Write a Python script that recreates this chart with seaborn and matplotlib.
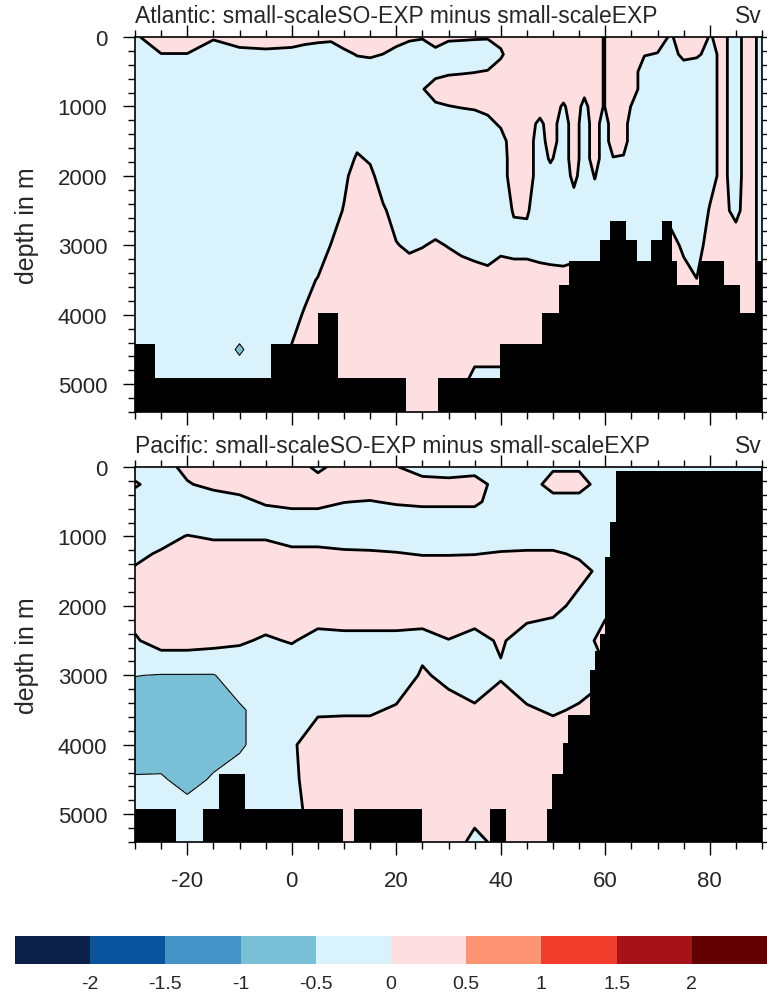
import numpy as np
import matplotlib
matplotlib.use("Agg")
import matplotlib.pyplot as plt
from matplotlib.colors import BoundaryNorm, ListedColormap
from matplotlib.cm import ScalarMappable
from matplotlib.ticker import MultipleLocator
import seaborn as sns

# ---------------------------------------------------------------------------
# Shading levels (Sv) and colours
# ---------------------------------------------------------------------------
level_bounds = [-2.5, -2.0, -1.5, -1.0, -0.5, 0.0, 0.5, 1.0, 1.5, 2.0, 2.5]
bar_ticks = [-2, -1.5, -1, -0.5, 0, 0.5, 1, 1.5, 2]
shade_hex = ["#0b2049", "#0a539d", "#4393c7", "#79bfd6", "#d9f2fc",
             "#fddfe1", "#fc9373", "#f03d2c", "#a61218", "#620001"]

max_depth = 5400

# ---------------------------------------------------------------------------
# Atlantic: streamfunction difference, one vertical profile per latitude
# ---------------------------------------------------------------------------
atl_lat = [-30, -25, -20, -15, -10, -5, 0, 2.5, 5, 7.5, 10, 12.5, 15, 17.5,
           20, 22.5, 25, 27.5, 30, 32.5, 35, 37.5, 40, 42.5, 45, 47.5, 49.5,
           52, 54, 56, 58, 59.75, 61.5, 63.5, 65, 67.5, 70, 72.5, 75, 77.5,
           80, 82.5, 85, 87.5, 90]
atl_depth = [0, 250, 500, 750, 1000, 1250, 1500, 1750, 2000, 2500, 3000,
             3500, 4000, 4500, 5000, 5400]
atl_profiles = [
    [-0.05, -0.2, -0.2, -0.2, -0.2, -0.2, -0.2, -0.2, -0.2, -0.2, -0.2, -0.2, -0.2, -0.2, -0.2, -0.2],
    [0.2, -0.01, -0.2, -0.2, -0.2, -0.2, -0.2, -0.2, -0.2, -0.2, -0.2, -0.2, -0.2, -0.2, -0.2, -0.2],
    [0.2, -0.01, -0.2, -0.2, -0.2, -0.2, -0.2, -0.2, -0.2, -0.2, -0.2, -0.2, -0.2, -0.2, -0.2, -0.2],
    [0.04, -0.2, -0.2, -0.2, -0.2, -0.2, -0.2, -0.2, -0.2, -0.2, -0.2, -0.2, -0.2, -0.2, -0.2, -0.2],
    [0.15, -0.1, -0.2, -0.2, -0.2, -0.2, -0.2, -0.2, -0.2, -0.2, -0.2, -0.2, -0.2, -0.56, -0.2, -0.2],
    [0.2, -0.09, -0.2, -0.2, -0.2, -0.2, -0.2, -0.2, -0.2, -0.2, -0.2, -0.2, -0.2, -0.2, -0.2, -0.2],
    [0.15, -0.1, -0.2, -0.2, -0.2, -0.2, -0.2, -0.2, -0.2, -0.2, -0.2, -0.2, -0.1, 0.02, 0.2, 0.2],
    [0.1, -0.13, -0.2, -0.2, -0.2, -0.2, -0.2, -0.2, -0.2, -0.2, -0.2, -0.1, 0.03, 0.2, 0.2, 0.2],
    [0.1, -0.2, -0.2, -0.2, -0.2, -0.2, -0.2, -0.2, -0.2, -0.2, -0.2, 0.02, 0.2, 0.2, 0.2, 0.2],
    [0.08, -0.22, -0.2, -0.2, -0.2, -0.2, -0.2, -0.2, -0.2, -0.2, 0.01, 0.2, 0.2, 0.2, 0.2, 0.2],
    [0.2, -0.09, -0.2, -0.2, -0.2, -0.2, -0.2, -0.2, -0.1, 0.03, 0.2, 0.2, 0.2, 0.2, 0.2, 0.2],
    [0.2, 0.02, -0.2, -0.2, -0.2, -0.2, -0.1, 0.05, 0.2, 0.2, 0.2, 0.2, 0.2, 0.2, 0.2, 0.2],
    [0.2, 0.05, -0.2, -0.2, -0.2, -0.2, -0.2, -0.05, 0.1, 0.2, 0.2, 0.2, 0.2, 0.2, 0.2, 0.2],
    [0.2, -0.005, -0.2, -0.2, -0.2, -0.2, -0.2, -0.2, -0.2, 0.05, 0.2, 0.2, 0.2, 0.2, 0.2, 0.2],
    [0.15, -0.12, -0.2, -0.2, -0.2, -0.2, -0.2, -0.2, -0.2, -0.15, 0.02, 0.2, 0.2, 0.2, 0.2, 0.2],
    [0.06, -0.19, -0.2, -0.2, -0.2, -0.2, -0.2, -0.2, -0.2, -0.2, -0.06, 0.2, 0.2, 0.2, 0.2, 0.2],
    [0.03, -0.22, -0.2, -0.02, -0.2, -0.2, -0.2, -0.2, -0.2, -0.2, -0.015, 0.2, 0.2, 0.2, 0.2, 0.2],
    [0.15, -0.1, -0.1, 0.15, -0.05, -0.2, -0.2, -0.2, -0.2, -0.2, 0.04, 0.2, 0.2, 0.2, 0.2, 0.2],
    [0.06, -0.19, -0.05, 0.2, -0.01, -0.2, -0.2, -0.2, -0.2, -0.2, -0.015, 0.2, 0.2, 0.2, 0.2, 0.2],
    [0.05, -0.2, -0.03, 0.2, 0.02, -0.2, -0.2, -0.2, -0.2, -0.2, -0.09, 0.2, 0.2, 0.2, 0.1, 0.1],
    [0.035, -0.2, -0.01, 0.2, 0.05, -0.2, -0.2, -0.2, -0.2, -0.2, -0.17, 0.2, 0.2, 0.2, -0.2, -0.2],
    [0.03, -0.22, 0.02, 0.2, 0.1, -0.1, -0.2, -0.2, -0.2, -0.2, -0.28, 0.2, 0.2, 0.2, -0.2, -0.2],
    [0.1, -0.05, 0.15, 0.2, 0.2, 0.05, -0.15, -0.2, -0.2, -0.2, -0.09, 0.2, 0.2, 0.2, -0.2, -0.2],
    [0.2, 0.2, 0.2, 0.2, 0.2, 0.2, 0.2, 0.2, 0.2, 0.03, -0.13, 0.2, 0.2, 0.2, 0.2, 0.2],
    [0.2, 0.2, 0.2, 0.2, 0.2, 0.2, 0.2, 0.2, 0.2, 0.04, -0.13, 0.2, 0.2, 0.2, 0.2, 0.2],
    [0.2, 0.2, 0.2, 0.2, 0.2, -0.1, -0.2, -0.2, -0.2, -0.2, -0.15, 0.15, 0.2, 0.2, 0.2, 0.2],
    [0.2, 0.2, 0.2, 0.2, 0.2, 0.2, 0.2, 0.05, -0.15, -0.2, -0.25, 0.2, 0.2, 0.2, 0.2, 0.2],
    [0.2, 0.2, 0.2, 0.2, -0.05, -0.2, -0.2, -0.2, -0.2, -0.2, -0.15, 0.1, 0.2, 0.2, 0.2, 0.2],
    [0.2, 0.2, 0.2, 0.2, 0.2, 0.2, 0.2, 0.2, 0.1, -0.2, -0.2, 0.2, 0.2, 0.2, 0.2, 0.2],
    [0.2, 0.2, 0.2, 0.1, -0.1, -0.2, -0.2, -0.2, -0.2, -0.2, -0.2, 0.2, 0.2, 0.2, 0.2, 0.2],
    [0.2, 0.2, 0.2, 0.2, 0.2, 0.2, 0.2, 0.2, 0.02, -0.2, -0.2, 0.2, 0.2, 0.2, 0.2, 0.2],
    [-0.02, -0.02, -0.02, -0.02, -0.02, -0.2, -0.2, -0.2, -0.2, -0.2, -0.2, -0.2, -0.2, -0.2, -0.2, -0.2],
    [0.2, 0.2, 0.2, 0.2, 0.2, 0.2, 0.2, -0.02, -0.2, -0.2, -0.2, -0.2, -0.2, -0.2, -0.2, -0.2],
    [0.2, 0.2, 0.2, 0.2, 0.2, 0.2, 0.2, -0.05, -0.2, -0.2, -0.2, -0.2, -0.2, -0.2, -0.2, -0.2],
    [0.2, 0.2, 0.2, 0.2, -0.02, -0.2, -0.2, -0.2, -0.2, -0.2, -0.2, -0.2, -0.2, -0.2, -0.2, -0.2],
    [0.2, 0.02, -0.2, -0.2, -0.2, -0.2, -0.2, -0.2, -0.2, -0.2, -0.2, -0.2, -0.2, -0.2, -0.2, -0.2],
    [0.2, -0.02, -0.2, -0.2, -0.2, -0.2, -0.2, -0.2, -0.2, -0.2, -0.2, -0.2, -0.2, -0.2, -0.2, -0.2],
    [-0.05, -0.15, -0.2, -0.2, -0.2, -0.2, -0.2, -0.2, -0.2, -0.2, 0.2, 0.2, 0.2, 0.2, 0.2, 0.2],
    [0.2, 0.1, -0.2, -0.2, -0.2, -0.2, -0.2, -0.2, -0.2, -0.2, -0.1, 0.2, 0.2, 0.2, 0.2, 0.2],
    [0.2, 0.05, -0.2, -0.2, -0.2, -0.2, -0.2, -0.2, -0.2, -0.2, -0.2, 0.01, 0.2, 0.2, 0.2, 0.2],
    [-0.02, -0.1, -0.1, -0.1, -0.1, -0.1, -0.1, -0.1, -0.1, 0.02, 0.2, 0.2, 0.2, 0.2, 0.2, 0.2],
    [0.08, 0.08, 0.08, 0.08, 0.08, 0.08, 0.08, 0.08, 0.08, 0.1, 0.2, 0.2, 0.2, 0.2, 0.2, 0.2],
    [-0.15, -0.15, -0.15, -0.15, -0.15, -0.15, -0.15, -0.15, -0.15, -0.1, 0.2, 0.2, 0.2, 0.2, 0.2, 0.2],
    [0.2, 0.2, 0.2, 0.2, 0.2, 0.2, 0.2, 0.2, 0.2, 0.2, 0.2, 0.2, 0.2, 0.2, 0.2, 0.2],
    [-0.15, -0.15, -0.15, -0.15, -0.15, -0.15, -0.15, -0.15, -0.15, -0.15, -0.15, -0.15, -0.15, -0.15, -0.15, -0.15],
]
# sea floor: latitude edges of each step and the depth of the floor there
atl_floor_lat = [-30, -26.1, -3.9, 5.0, 8.9, 21.8, 28.0, 39.9, 47.9, 51.2, 53.0,
                 58.9, 61.0, 63.9, 66.0, 68.8, 70.9, 72.8, 73.7, 77.9, 82.8,
                 85.8, 88.9, 90]
atl_floor_depth = [4424, 4914, 4424, 3977, 4914, 5400, 4914, 4424, 3977, 3570,
                   3223, 2920, 2655, 2920, 3223, 2920, 2655, 3223, 3573, 3223,
                   3573, 3977, 3223]

# ---------------------------------------------------------------------------
# Pacific
# ---------------------------------------------------------------------------
pac_lat = [-30, -25, -20, -15, -10, -5, 0, 5, 10, 15, 20, 25, 30, 35, 40, 45,
           50, 55, 60, 65, 70, 75, 80, 85, 90]
pac_depth = [0, 250, 500, 750, 1000, 1250, 1500, 2000, 2500, 3000, 3500,
             4000, 4500, 5000, 5400]
pac_profiles = [
    [-0.2, 0.05, -0.2, -0.25, -0.25, -0.1, 0.05, 0.2, -0.05, -0.49, -0.75, -0.8, -0.45, -0.2, -0.2],
    [-0.15, -0.2, -0.25, -0.25, -0.15, 0.05, 0.25, 0.25, 0.2, -0.52, -0.75, -0.75, -0.45, -0.2, -0.2],
    [0.1, -0.03, -0.25, -0.25, 0.02, 0.25, 0.25, 0.25, 0.2, -0.52, -0.8, -0.8, -0.65, -0.3, -0.3],
    [0.2, 0.1, -0.2, -0.25, -0.05, 0.2, 0.25, 0.25, 0.15, -0.52, -0.75, -0.7, -0.45, -0.25, -0.2],
    [0.2, 0.15, -0.1, -0.25, -0.05, 0.2, 0.25, 0.25, 0.05, -0.3, -0.55, -0.55, -0.35, -0.2, -0.2],
    [0.25, 0.25, 0.05, -0.2, -0.05, 0.2, 0.25, 0.25, -0.05, -0.3, -0.35, -0.35, -0.3, -0.2, -0.2],
    [0.25, 0.25, 0.1, -0.15, -0.15, 0.1, 0.25, 0.25, 0.03, -0.3, -0.3, -0.05, -0.1, -0.2, -0.2],
    [-0.1, 0.2, 0.1, -0.15, -0.15, 0.1, 0.25, 0.25, -0.13, -0.3, -0.05, 0.2, 0.25, 0.25, 0.25],
    [0.2, 0.25, 0.01, -0.2, -0.15, 0.05, 0.25, 0.25, -0.1, -0.3, -0.05, 0.25, 0.25, 0.25, 0.25],
    [0.2, 0.25, -0.02, -0.25, -0.2, 0.05, 0.25, 0.25, -0.1, -0.3, -0.05, 0.25, 0.25, 0.25, 0.25],
    [0.02, 0.25, 0.05, -0.25, -0.2, 0.02, 0.25, 0.25, -0.1, -0.25, 0.05, 0.25, 0.25, 0.25, 0.25],
    [-0.2, 0.17, 0.1, -0.25, -0.25, -0.02, 0.2, 0.25, -0.13, 0.05, 0.25, 0.25, 0.25, 0.25, 0.25],
    [-0.2, 0.12, 0.1, -0.25, -0.25, -0.02, 0.2, 0.25, -0.01, -0.1, 0.15, 0.25, 0.25, 0.2, 0.2],
    [-0.15, 0.15, 0.1, -0.25, -0.25, -0.01, 0.2, 0.25, -0.13, -0.2, 0.05, 0.25, 0.25, 0.1, -0.1],
    [-0.1, -0.15, -0.25, -0.25, -0.2, 0.03, 0.25, 0.25, 0.05, -0.05, 0.25, 0.25, 0.25, 0.1, 0.1],
    [-0.1, -0.2, -0.25, -0.25, -0.2, 0.05, 0.25, 0.2, -0.2, -0.25, 0.05, 0.25, 0.25, 0.25, 0.25],
    [-0.05, 0.15, -0.15, -0.25, -0.2, 0.05, 0.25, 0.1, -0.2, -0.25, -0.05, 0.25, 0.25, 0.25, 0.25],
    [-0.05, 0.15, -0.15, -0.25, -0.25, -0.05, 0.1, -0.1, -0.2, -0.2, 0.05, 0.2, 0.2, 0.2, 0.2],
    [-0.2, -0.2, -0.2, -0.2, -0.2, -0.2, -0.1, -0.1, 0.15, -0.05, 0.2, 0.2, 0.2, 0.2, 0.2],
    [-0.2, -0.2, -0.2, -0.2, -0.2, -0.2, -0.2, -0.2, -0.2, -0.2, -0.2, -0.2, -0.2, -0.2, -0.2],
    [-0.2, -0.2, -0.2, -0.2, -0.2, -0.2, -0.2, -0.2, -0.2, -0.2, -0.2, -0.2, -0.2, -0.2, -0.2],
    [-0.2, -0.2, -0.2, -0.2, -0.2, -0.2, -0.2, -0.2, -0.2, -0.2, -0.2, -0.2, -0.2, -0.2, -0.2],
    [-0.2, -0.2, -0.2, -0.2, -0.2, -0.2, -0.2, -0.2, -0.2, -0.2, -0.2, -0.2, -0.2, -0.2, -0.2],
    [-0.2, -0.2, -0.2, -0.2, -0.2, -0.2, -0.2, -0.2, -0.2, -0.2, -0.2, -0.2, -0.2, -0.2, -0.2],
    [-0.2, -0.2, -0.2, -0.2, -0.2, -0.2, -0.2, -0.2, -0.2, -0.2, -0.2, -0.2, -0.2, -0.2, -0.2],
]
pac_floor_lat = [-30, -22.1, -17, -14, -9, 9.8, 11.9, 24.9, 38, 41, 48.9, 49.9,
                 51.9, 52.8, 57, 58, 59, 60, 61, 62, 90]
pac_floor_depth = [4920, 5400, 4920, 4420, 4920, 5400, 4920, 5400, 4920, 5400,
                   4920, 4420, 3976, 3568, 2916, 2652, 2403, 1290, 791, 60]

panel_titles = ["Atlantic: small-scaleSO-EXP minus small-scaleEXP",
                "Pacific: small-scaleSO-EXP minus small-scaleEXP"]
unit_label = "Sv"
x_ticks = [-20, 0, 20, 40, 60, 80]

# ---------------------------------------------------------------------------
sns.set_theme(style="ticks")
plt.rcParams["font.family"] = ["Liberation Sans", "DejaVu Sans"]
plt.rcParams["axes.unicode_minus"] = False
plt.rcParams["contour.negative_linestyle"] = "solid"

cmap = ListedColormap(sns.color_palette(shade_hex))
norm = BoundaryNorm(level_bounds, cmap.N)

fig = plt.figure(figsize=(7.67, 9.95), dpi=100)
W, H = 767.0, 995.0
ax_top = fig.add_axes([135 / W, 1 - 413 / H, 627 / W, 375 / H])
ax_bot = fig.add_axes([135 / W, 1 - 843 / H, 627 / W, 375 / H])


def draw_panel(ax, lat, depth, profiles, floor_lat, floor_depth, title,
               show_xlabels):
    field = np.array(profiles).T
    ax.contourf(lat, depth, field, levels=level_bounds, cmap=cmap, norm=norm,
                zorder=1)
    thin_levels = [lv for lv in level_bounds[1:-1] if lv != 0.0]
    ax.contour(lat, depth, field, levels=thin_levels, colors="black",
               linewidths=0.8, linestyles="solid", zorder=2)
    ax.contour(lat, depth, field, levels=[0.0], colors="black",
               linewidths=2.0, linestyles="solid", zorder=2)
    floor = list(floor_depth) + [floor_depth[-1]]
    ax.fill_between(floor_lat, floor, max_depth, step="post",
                    color="black", linewidth=0, zorder=3)

    ax.set_xlim(-30, 90)
    ax.set_ylim(max_depth, 0)
    ax.set_xticks(x_ticks)
    ax.xaxis.set_minor_locator(MultipleLocator(5))
    ax.set_yticks([0, 1000, 2000, 3000, 4000, 5000])
    ax.yaxis.set_minor_locator(MultipleLocator(200))
    ax.tick_params(which="both", direction="out", top=True, right=True,
                   width=1.0, color="black", labelsize=16, pad=11)
    ax.tick_params(which="major", length=9)
    ax.tick_params(which="minor", length=5)
    if not show_xlabels:
        ax.tick_params(axis="x", labelbottom=False)
    for sp in ax.spines.values():
        sp.set_linewidth(1.2)
        sp.set_color("black")
        sp.set_zorder(4)
    ax.set_ylabel("depth in m", fontsize=18)
    ax.yaxis.set_label_coords(-0.153, 0.5)
    ax.set_title(title, loc="left", fontsize=16.5, pad=11)
    ax.set_title(unit_label, loc="right", fontsize=16.5, pad=11)


draw_panel(ax_top, atl_lat, atl_depth, atl_profiles, atl_floor_lat,
           atl_floor_depth, panel_titles[0], False)
draw_panel(ax_bot, pac_lat, pac_depth, pac_profiles, pac_floor_lat,
           pac_floor_depth, panel_titles[1], True)

# horizontal label bar
cax = fig.add_axes([15 / W, 1 - 965 / H, 752 / W, 28 / H])
cb = fig.colorbar(ScalarMappable(norm=norm, cmap=cmap), cax=cax,
                  orientation="horizontal", ticks=bar_ticks,
                  boundaries=level_bounds, spacing="uniform")
cb.outline.set_visible(False)
cb.minorticks_off()
cb.ax.set_xticklabels(["%g" % t for t in bar_ticks])
cax.tick_params(which="both", length=0, labelsize=14, pad=8)

fig.savefig("out.png", dpi=100)
